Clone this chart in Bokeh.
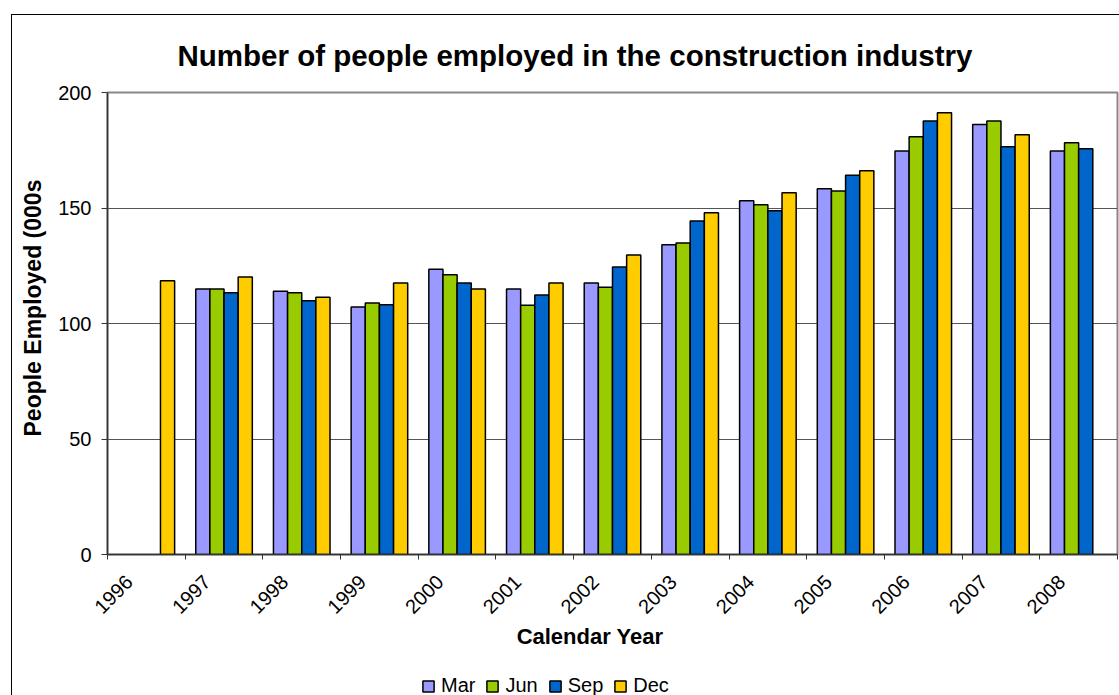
import math
from bokeh.plotting import figure
from bokeh.layouts import column
from bokeh.models import (Range1d, FixedTicker, Legend, LegendItem, Title, Label,
                          ColumnDataSource)
from bokeh.transform import dodge
from bokeh.embed import file_html
from bokeh.resources import INLINE

# ---------------- data ----------------
years = ["1996", "1997", "1998", "1999", "2000", "2001", "2002",
         "2003", "2004", "2005", "2006", "2007", "2008"]
mar = [None, 114.9, 114.0, 107.1, 123.5, 114.9, 117.5, 134.1, 153.1, 158.3, 174.7, 186.1, 174.7]
jun = [None, 114.9, 113.3, 108.9, 121.1, 107.9, 115.7, 134.8, 151.4, 157.4, 180.8, 187.7, 178.2]
sep = [None, 113.3, 109.8, 108.1, 117.5, 112.3, 124.5, 144.4, 148.8, 164.2, 187.7, 176.5, 175.6]
dec = [118.5, 120.1, 111.4, 117.5, 114.9, 117.5, 129.7, 147.9, 156.6, 166.1, 191.2, 181.7, None]
series_names = ["Mar", "Jun", "Sep", "Dec"]
series_values = [mar, jun, sep, dec]
colors = ["#9999FF", "#99CC00", "#0066CC", "#FFCC00"]
y_ticks = [0, 50, 100, 150, 200]

FONT = "Liberation Sans"
W, H_MAIN, H_FOOT = 1119, 625, 70
FRAME_L, FRAME_R = 107, 1117

# ---------------- main chart ----------------
p = figure(width=W, height=H_MAIN, output_backend="svg", toolbar_location=None,
           x_range=Range1d(-0.5, len(years) - 0.5), y_range=Range1d(0, 200),
           min_border_left=FRAME_L, min_border_right=W - FRAME_R, min_border_top=92,
           min_border_bottom=71, title=None)
p.background_fill_color = "white"
p.border_fill_alpha = 0
p.outline_line_color = "#888888"
p.outline_line_width = 2
# outer chart border (left and top edges visible in the reference)
p.styles = {"background": "linear-gradient(#000,#000) 11px 14px / 1px 100% no-repeat, "
                          "linear-gradient(#000,#000) 11px 14px / 100% 1px no-repeat, #fff"}

bw = 0.182
offsets = [-1.5 * bw, -0.5 * bw, 0.5 * bw, 1.5 * bw]
for name, vals, col, off in zip(series_names, series_values, colors, offsets):
    xs = [i for i, v in enumerate(vals) if v is not None]
    tops = [v for v in vals if v is not None]
    src = ColumnDataSource(dict(x=xs, top=tops))
    p.vbar(x=dodge("x", off, range=p.x_range), top="top", width=bw, bottom=0,
           source=src, fill_color=col, line_color="black", line_width=1.5)

# grid
p.xgrid.visible = False
p.ygrid.ticker = FixedTicker(ticks=y_ticks)
p.ygrid.grid_line_color = "#555555"
p.ygrid.grid_line_width = 1

# y axis
p.yaxis.ticker = FixedTicker(ticks=y_ticks)
p.yaxis.axis_line_color = "#333333"
p.yaxis.axis_line_width = 1.5
p.yaxis.major_tick_out = 6
p.yaxis.major_tick_in = 0
p.yaxis.major_tick_line_color = "#333333"
p.yaxis.minor_tick_line_color = None
p.yaxis.major_label_text_font = FONT
p.yaxis.major_label_text_font_size = "20px"
p.yaxis.major_label_text_color = "black"
p.yaxis.major_label_standoff = 10

# x axis: labels slightly left of category centre, tick marks at boundaries
label_pos = [i - 0.22 for i in range(len(years))]
p.xaxis.ticker = FixedTicker(ticks=label_pos,
                             minor_ticks=[i - 0.5 for i in range(len(years) + 1)])
p.xaxis.major_label_overrides = {t: y for t, y in zip(label_pos, years)}
p.xaxis.major_tick_line_color = None
p.xaxis.major_tick_out = 0
p.xaxis.major_tick_in = 0
p.xaxis.minor_tick_line_color = "#333333"
p.xaxis.minor_tick_out = 5
p.xaxis.minor_tick_in = 0
p.xaxis.axis_line_color = "#333333"
p.xaxis.axis_line_width = 1.5
p.xaxis.major_label_orientation = math.pi / 4
p.xaxis.major_label_text_font = FONT
p.xaxis.major_label_text_font_size = "20px"
p.xaxis.major_label_text_color = "black"
p.xaxis.major_label_standoff = 19

# titles
p.add_layout(Title(text="Number of people employed in the construction industry",
                   align="left", offset=70, standoff=41, text_color="black",
                   text_font=FONT, text_font_size="29.5px", text_font_style="bold"), "above")
p.add_layout(Title(text="People Employed (000s", align="left", offset=118, standoff=20,
                   text_color="black",
                   text_font=FONT, text_font_size="23px", text_font_style="bold"), "left")

# ---------------- footer: axis title + legend (frame aligned with the chart) ----------------
f = figure(width=W, height=H_FOOT, output_backend="svg", toolbar_location=None,
           x_range=Range1d(FRAME_L, FRAME_R), y_range=Range1d(0, H_FOOT),
           x_axis_location=None, y_axis_location=None,
           min_border_left=FRAME_L, min_border_right=W - FRAME_R,
           min_border_top=0, min_border_bottom=0)
f.grid.visible = False
f.outline_line_color = None
f.background_fill_alpha = 0
f.border_fill_alpha = 0
f.styles = {"background": "linear-gradient(#000,#000) 11px 0px / 1px 100% no-repeat, #fff"}

f.add_layout(Label(x=589.5, y=H_FOOT - 11, text="Calendar Year", text_color="black",
                   text_font=FONT, text_font_size="22px", text_font_style="bold",
                   text_align="center", text_baseline="middle"))

items = []
for name, col in zip(series_names, colors):
    # hidden proxy renderer: supplies only the legend swatch style
    r = f.vbar(x=[0], top=[0], width=1, fill_color=col, line_color="black",
               line_width=1.5, visible=False)
    items.append(LegendItem(label=name, renderers=[r]))
legend = Legend(items=items, orientation="horizontal", location=(421 - FRAME_L, -2),
                glyph_width=14, glyph_height=14, label_standoff=6, spacing=10,
                padding=0, margin=0, border_line_color=None, background_fill_alpha=0,
                inactive_fill_alpha=0,
                label_text_font=FONT, label_text_font_size="20px", label_text_color="black")
f.add_layout(legend)

layout = column(p, f, spacing=0)
open("out.html", "w").write(file_html(layout, INLINE))
